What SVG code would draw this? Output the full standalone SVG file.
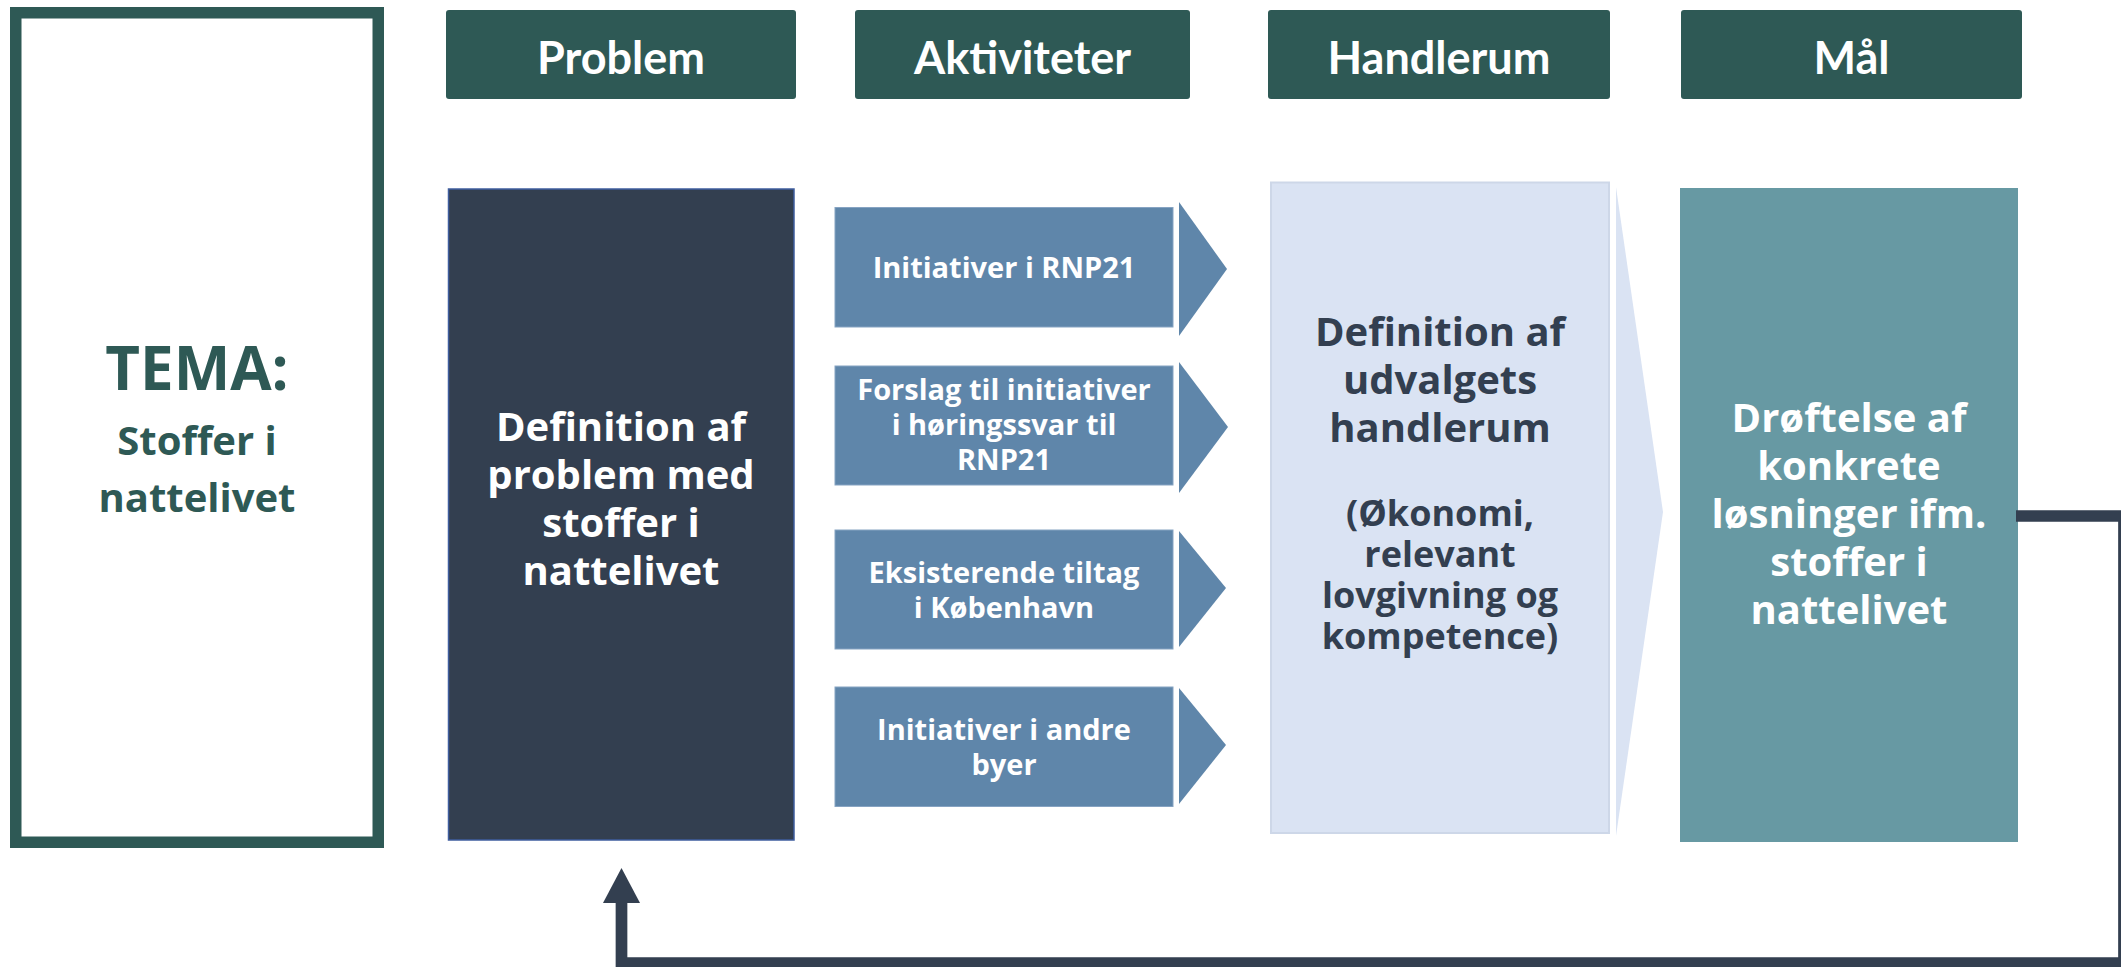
<svg xmlns="http://www.w3.org/2000/svg" width="2121" height="967" viewBox="0 0 2121 967">
<defs>
<style>
.hdr{fill:#2E5955}
.hdrt{font-family:Lato,"Open Sans",sans-serif;font-weight:700;font-size:45px;fill:#FFFFFF;text-anchor:middle}
.body{font-family:"Open Sans","DejaVu Sans",sans-serif;font-weight:700;text-anchor:middle}
.act{fill:#5F86AA}
.actt{font-family:"Open Sans","DejaVu Sans",sans-serif;font-weight:700;font-size:29px;fill:#FFFFFF;text-anchor:middle}
</style>
<marker id="arr" viewBox="0 0 35 37" markerWidth="35" markerHeight="37" refX="0" refY="18.5" orient="auto" markerUnits="userSpaceOnUse">
<path d="M0,0 L35,18.5 L0,37 Z" fill="#333F50"/>
</marker>
</defs>
<rect width="2121" height="967" fill="#FFFFFF"/>

<g id="tema">
<rect x="15.75" y="12.75" width="362.5" height="829.5" fill="#FFFFFF" stroke="#2E5955" stroke-width="11.5"/>
<text class="body" x="197" y="390" font-size="60" fill="#2E5955">TEMA:</text>
<text class="body" x="197" y="455" font-size="40" fill="#2E5955">Stoffer i</text>
<text class="body" x="197" y="512" font-size="40" fill="#2E5955">nattelivet</text>
</g>

<g id="header-problem">
<rect class="hdr" x="446" y="10" width="350" height="89" rx="3"/>
<text class="hdrt" x="621" y="74">Problem</text>
</g>
<g id="header-aktiviteter">
<rect class="hdr" x="855" y="10" width="335" height="89" rx="3"/>
<text class="hdrt" x="1022.5" y="74">Aktiviteter</text>
</g>
<g id="header-handlerum">
<rect class="hdr" x="1268" y="10" width="342" height="89" rx="3"/>
<text class="hdrt" x="1439" y="74">Handlerum</text>
</g>
<g id="header-maal">
<rect class="hdr" x="1681" y="10" width="341" height="89" rx="3"/>
<text class="hdrt" x="1851.5" y="74">Mål</text>
</g>

<g id="problem">
<rect x="448.5" y="189" width="345.5" height="651" fill="#333F50" stroke="#3F5E9E" stroke-width="1.5"/>
<text class="body" font-size="40" fill="#FFFFFF"><tspan x="621" y="441">Definition af</tspan><tspan x="621" y="489">problem med</tspan><tspan x="621" y="537">stoffer i</tspan><tspan x="621" y="585">nattelivet</tspan></text>
</g>

<g id="akt1">
<rect class="act" x="835" y="207.5" width="338" height="119.5" stroke="#86A3C2" stroke-width="1"/>
<polygon class="act" points="1179,202 1227,269 1179,336"/>
<text class="actt" x="1004" y="278">Initiativer i RNP21</text>
</g>
<g id="akt2">
<rect class="act" x="835" y="366" width="338" height="119" stroke="#86A3C2" stroke-width="1"/>
<polygon class="act" points="1179,362 1228,427 1179,493"/>
<text class="actt"><tspan x="1004" y="400">Forslag til initiativer</tspan><tspan x="1004" y="435">i høringssvar til</tspan><tspan x="1004" y="470">RNP21</tspan></text>
</g>
<g id="akt3">
<rect class="act" x="835" y="530" width="338" height="119" stroke="#86A3C2" stroke-width="1"/>
<polygon class="act" points="1179,531 1226,588 1179,647"/>
<text class="actt"><tspan x="1004" y="583">Eksisterende tiltag</tspan><tspan x="1004" y="618">i København</tspan></text>
</g>
<g id="akt4">
<rect class="act" x="835" y="687" width="338" height="119.5" stroke="#86A3C2" stroke-width="1"/>
<polygon class="act" points="1179,688 1226,745 1179,804"/>
<text class="actt"><tspan x="1004" y="740">Initiativer i andre</tspan><tspan x="1004" y="775">byer</tspan></text>
</g>

<g id="handlerum">
<rect x="1271" y="182.5" width="338" height="650.5" fill="#DAE3F3" stroke="#CDD7E8" stroke-width="2"/>
<polygon points="1616,187 1663,512 1616,836" fill="#DAE3F3"/>
<text class="body" font-size="40" fill="#333F50"><tspan x="1440" y="346">Definition af</tspan><tspan x="1440" y="394">udvalgets</tspan><tspan x="1440" y="442">handlerum</tspan></text>
<text class="body" font-size="36" fill="#333F50"><tspan x="1440" y="526">(Økonomi,</tspan><tspan x="1440" y="567">relevant</tspan><tspan x="1440" y="608">lovgivning og</tspan><tspan x="1440" y="649">kompetence)</tspan></text>
</g>

<g id="maal">
<rect x="1680" y="188" width="338" height="654" fill="#6799A3"/>
<text class="body" font-size="40" fill="#FFFFFF"><tspan x="1849" y="432">Drøftelse af</tspan><tspan x="1849" y="480">konkrete</tspan><tspan x="1849" y="528">løsninger ifm.</tspan><tspan x="1849" y="576">stoffer i</tspan><tspan x="1849" y="624">nattelivet</tspan></text>
</g>

<g id="connectors">
<path d="M2016,516 H2124 V963 H621.5 V903" fill="none" stroke="#333F50" stroke-width="11.7" marker-end="url(#arr)"/>
</g>
</svg>
